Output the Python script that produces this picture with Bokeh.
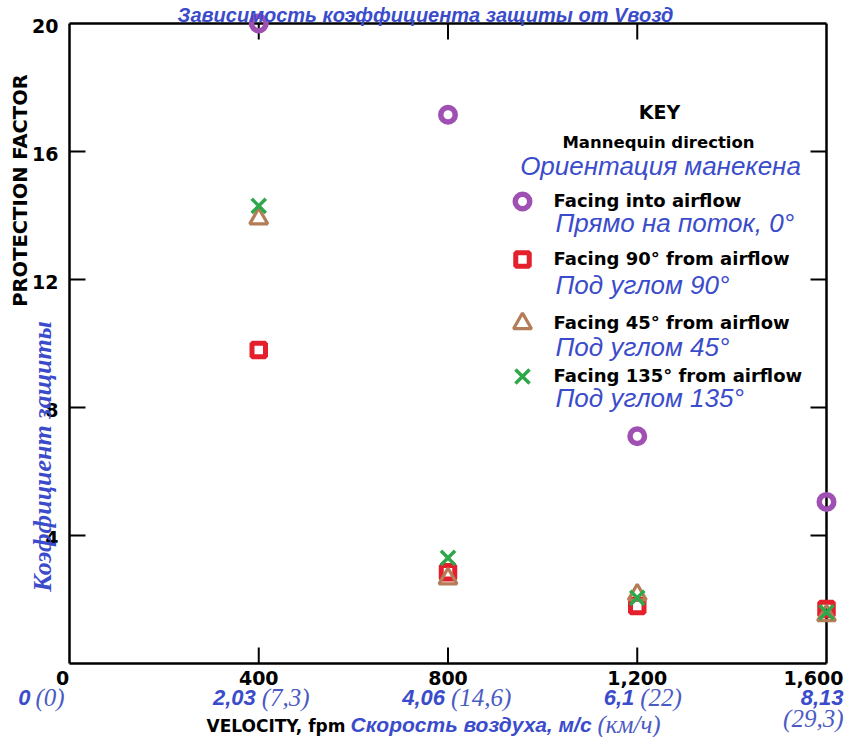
import math
from bokeh.plotting import figure
from bokeh.models import Range1d, Label
from bokeh.embed import file_html
from bokeh.resources import INLINE

# ---------------- data ----------------
velocity_fpm = [400, 800, 1200, 1600]
pf_facing_into = [20.0, 17.15, 7.1, 5.05]
pf_facing_90 = [9.8, 2.85, 1.8, 1.7]
pf_facing_45 = [13.9, 2.65, 2.15, 1.5]
pf_facing_135 = [14.3, 3.3, 2.05, 1.6]

x_ticks = [0, 400, 800, 1200, 1600]
x_tick_labels = ["0", "400", "800", "1,200", "1,600"]
y_ticks = [4, 8, 12, 16, 20]
y_tick_labels = ["4", "8", "12", "16", "20"]
speed_ms_labels = ["0", "2,03", "4,06", "6,1", "8,13"]
speed_kmh_labels = ["(0)", "(7,3)", "(14,6)", "(22)", "(29,3)"]

series_en = ["Facing into airflow", "Facing 90° from airflow",
             "Facing 45° from airflow", "Facing 135° from airflow"]
series_ru = ["Прямо на поток, 0°", "Под углом 90°", "Под углом 45°", "Под углом 135°"]

title_ru = "Зависимость коэффициента защиты от Vвозд"
key_title = "KEY"
key_sub_en = "Mannequin direction"
key_sub_ru = "Ориентация манекена"
y_title_en = "PROTECTION FACTOR"
y_title_ru = "Коэффициент защиты"
x_title_en = "VELOCITY, fpm"
x_title_ru = "Скорость воздуха, м/с"
x_title_ru2 = "(км/ч)"

# ---------------- layout helpers (pixel -> data through the plot scales) ----------------
W, H = 845, 737
X_MAX, Y_MAX = 1600, 20
BOX_L, BOX_R, BOX_T, BOX_B = 69, 826, 23, 663
PX_W, PX_H = BOX_R - BOX_L, BOX_B - BOX_T
EDGE = W - 2   # right-most pixel that text may reach


def dx(px):
    return (px - BOX_L) * X_MAX / PX_W


def dy(py):
    return (BOX_B - py) * Y_MAX / PX_H


BLACK_FONT = "DejaVu Sans"
BLUE = "#3B4CCB"
BLUE_LIGHT = "#4B5BC4"

p = figure(x_range=Range1d(dx(0), dx(W)), y_range=Range1d(dy(H), dy(0)),
           width=W, height=H, min_border=0,
           x_axis_location=None, y_axis_location=None,
           output_backend="svg", toolbar_location=None)
p.outline_line_color = None
p.grid.visible = False
p.background_fill_color = "white"
p.border_fill_color = "white"

# frame box
p.segment(x0=[0, 0, 0, X_MAX], y0=[0, Y_MAX, 0, 0], x1=[X_MAX, X_MAX, 0, X_MAX], y1=[0, Y_MAX, Y_MAX, Y_MAX],
          line_color="black", line_width=2.5)
# inward ticks on all four sides
tick_dx = 16 * X_MAX / PX_W
tick_dy = 16 * Y_MAX / PX_H
inner_x = [t for t in x_ticks if 0 < t < X_MAX]
inner_y = [t for t in y_ticks if 0 < t < Y_MAX]
nx, ny = len(inner_x), len(inner_y)
p.segment(x0=inner_x * 2, y0=[0] * nx + [Y_MAX] * nx, x1=inner_x * 2,
          y1=[tick_dy] * nx + [Y_MAX - tick_dy] * nx, line_color="black", line_width=2)
p.segment(x0=[0] * ny + [X_MAX] * ny, y0=inner_y * 2, x1=[tick_dx] * ny + [X_MAX - tick_dx] * ny,
          y1=inner_y * 2, line_color="black", line_width=2)


def label(px, py, text, font=BLACK_FONT, size="16px", style="bold", color="black",
          align="left", baseline="middle", angle=0.0):
    p.add_layout(Label(x=dx(px), y=dy(py), text=text, text_font=font, text_font_size=size,
                       text_font_style=style, text_color=color, text_align=align,
                       text_baseline=baseline, angle=angle))


# tick labels
for t, lab in zip(x_ticks, x_tick_labels):
    tx = BOX_L + t * PX_W / X_MAX
    if t == 0:
        label(tx - 7, 677, lab, size="19px", align="center")
    elif t == X_MAX:
        label(EDGE, 677, lab, size="19px", align="right")
    else:
        label(tx, 677, lab, size="19px", align="center")
for t, lab in zip(y_ticks, y_tick_labels):
    ty = BOX_B - t * PX_H / Y_MAX
    label(58, ty + 2, lab, size="19px", align="right")

# ---------------- series ----------------
styles = [
    dict(marker="circle", line_color="#A04FB2", size=14.5, line_width=5.5),
    dict(marker="square", line_color="#E3202B", size=13.5, line_width=5),
    dict(marker="triangle", line_color="#B47D58", size=18, line_width=3.2),
    dict(marker="x", line_color="#2FA84B", size=20, line_width=3.5),
]
series_vals = [pf_facing_into, pf_facing_90, pf_facing_45, pf_facing_135]
for vals, st in zip(series_vals, styles):
    p.scatter(x=velocity_fpm, y=vals, fill_color="white", fill_alpha=0, **st)

# ---------------- key ----------------
label(659, 111, key_title, size="19px", align="center")
label(658, 142, key_sub_en, size="16.5px", align="center")
label(660, 165, key_sub_ru, font="Liberation Sans", size="26px", style="italic",
      color=BLUE, align="center")
row_en_y = [200, 258, 322, 375]
row_ru_y = [222, 284, 346, 397]
for i, st in enumerate(styles):
    p.scatter(x=[dx(522)], y=[dy(row_en_y[i] + 1)], fill_color="white", fill_alpha=0, **st)
    label(553, row_en_y[i], series_en[i], size="18px")
    label(555, row_ru_y[i], series_ru[i], font="Liberation Sans", size="26px",
          style="italic", color=BLUE)

# ---------------- axis titles ----------------
label(20, 190, y_title_en, size="19.5px", align="center", angle=math.pi / 2)
label(42, 456, y_title_ru, font="Liberation Serif", size="26px", style="bold italic",
      color=BLUE, align="center", angle=math.pi / 2)

# second x scale (m/s and km/h)
MS = dict(font="Liberation Sans", size="22px", style="bold italic", color=BLUE)
KMH = dict(font="Liberation Serif", size="25px", style="italic", color=BLUE_LIGHT)
for i, t in enumerate(x_ticks):
    tx = BOX_L + t * PX_W / X_MAX
    if i == 0:
        label(tx - 39, 697, speed_ms_labels[i], align="right", **MS)
        label(tx - 34, 697, speed_kmh_labels[i], align="left", **KMH)
    elif i == len(x_ticks) - 1:
        label(EDGE, 697, speed_ms_labels[i], align="right", **MS)
        label(EDGE, 718, speed_kmh_labels[i], align="right", **KMH)
    else:
        label(tx - 3, 697, speed_ms_labels[i], align="right", **MS)
        label(tx + 3, 697, speed_kmh_labels[i], align="left", **KMH)

label(345, 725, x_title_en, size="17px", align="right")
label(350, 724, x_title_ru, font="Liberation Sans", size="21px", style="bold italic",
      color=BLUE, align="left")
label(597, 724, x_title_ru2, font="Liberation Serif", size="25px", style="italic",
      color=BLUE_LIGHT, align="left")

# chart title (top edge)
label(425, 3, title_ru, font="Liberation Sans", size="20px", style="bold italic",
      color=BLUE, align="center", baseline="top")

open("out.html", "w").write(file_html(p, INLINE))
